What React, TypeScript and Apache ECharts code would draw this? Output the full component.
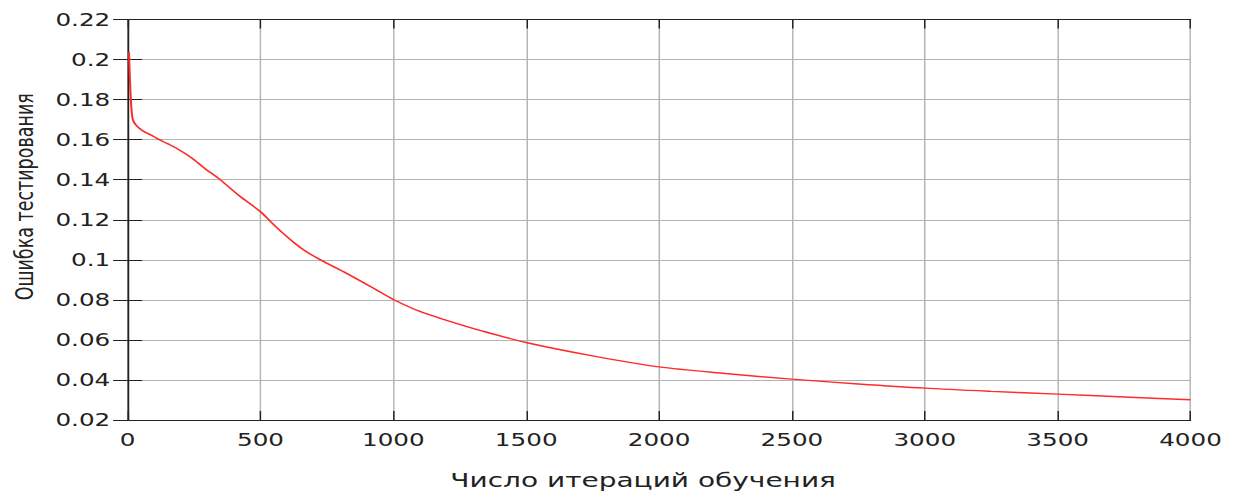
import React, { useEffect, useRef } from "react";
import * as echarts from "echarts";

const iterations = [5, 8, 12, 16, 20, 30, 45, 62, 85, 112, 150, 187, 240, 287, 349, 420, 499, 537, 580, 624, 670, 724, 824, 936, 1000, 1100, 1200, 1336, 1499, 1750, 1999, 2250, 2499, 2750, 3000, 3250, 3500, 3750, 4000];
const testError = [0.2037, 0.192, 0.18, 0.173, 0.1698, 0.1675, 0.1656, 0.164, 0.1625, 0.1605, 0.158, 0.1555, 0.151, 0.146, 0.1399, 0.132, 0.1241, 0.1192, 0.1138, 0.1088, 0.1043, 0.1001, 0.0932, 0.085, 0.0802, 0.0742, 0.0698, 0.0644, 0.0587, 0.052, 0.0465, 0.0432, 0.0404, 0.038, 0.0359, 0.0343, 0.0329, 0.0315, 0.0301];
const xName = "Число итераций обучения";
const yName = "Ошибка тестирования";

const SCALE = 1233 / 850;
const FONT = "DejaVu Sans";

export default function App() {
  const ref = useRef<HTMLDivElement>(null);
  useEffect(() => {
    if (!ref.current) return;
    const chart = echarts.init(ref.current, undefined, { renderer: "svg" });
    const axisLine = { show: true, lineStyle: { color: "#222", width: 1 } };
    const gridLine = { show: true, lineStyle: { color: "#b4b4b4", width: 1 } };
    const tickStyle = { color: "#222", width: 1 };
    chart.setOption({
      animation: false,
      backgroundColor: "#fff",
      grid: { left: 85.1, right: 29.3, top: 19.5, bottom: 74, containLabel: false },
      xAxis: [
        {
          type: "value",
          min: 0,
          max: 4000,
          interval: 500,
          position: "bottom",
          axisLine,
          axisTick: { show: true, inside: true, length: 9, lineStyle: tickStyle },
          splitLine: gridLine,
          axisLabel: { fontFamily: FONT, fontSize: 17, color: "#222", margin: 11, formatter: (v: number) => String(v) },
          name: xName,
          nameLocation: "middle",
          nameGap: 51,
          nameTextStyle: { fontFamily: FONT, fontSize: 19.3, color: "#222", padding: [0, 22, 0, 0] },
        },
        {
          type: "value",
          min: 0,
          max: 4000,
          interval: 500,
          position: "top",
          axisLine,
          axisTick: { show: true, inside: true, length: 9, lineStyle: tickStyle },
          splitLine: { show: false },
          axisLabel: { show: false },
        },
      ],
      yAxis: [
        {
          type: "value",
          min: 0.02,
          max: 0.22,
          interval: 0.02,
          position: "left",
          axisLine,
          axisTick: { show: true, inside: true, length: 10, lineStyle: tickStyle },
          splitLine: gridLine,
          axisLabel: {
            fontFamily: FONT,
            fontSize: 17,
            color: "#222",
            margin: 12,
            formatter: (v: number) => String(parseFloat(v.toFixed(2))),
          },
          name: yName,
          nameLocation: "middle",
          nameGap: 62,
          nameTextStyle: { fontFamily: FONT, fontSize: 17.5, color: "#222", padding: [0, 0, 0, 46] },
        },
        {
          type: "value",
          min: 0.02,
          max: 0.22,
          interval: 0.02,
          position: "right",
          axisLine,
          axisTick: { show: true, inside: true, length: 10, lineStyle: tickStyle },
          splitLine: { show: false },
          axisLabel: { show: false },
        },
      ],
      series: [
        {
          type: "line",
          xAxisIndex: 0,
          yAxisIndex: 0,
          data: iterations.map((x, i) => [x, testError[i]]),
          showSymbol: false,
          smooth: 0.3,
          lineStyle: { color: "#ff2a2a", width: 1.4 },
        },
      ],
    });
    return () => chart.dispose();
  }, []);
  return (
    <div
      ref={ref}
      style={{
        position: "absolute",
        left: 0,
        top: 0,
        width: 850,
        height: 495,
        transform: `scaleX(${SCALE})`,
        transformOrigin: "0 0",
      }}
    />
  );
}
